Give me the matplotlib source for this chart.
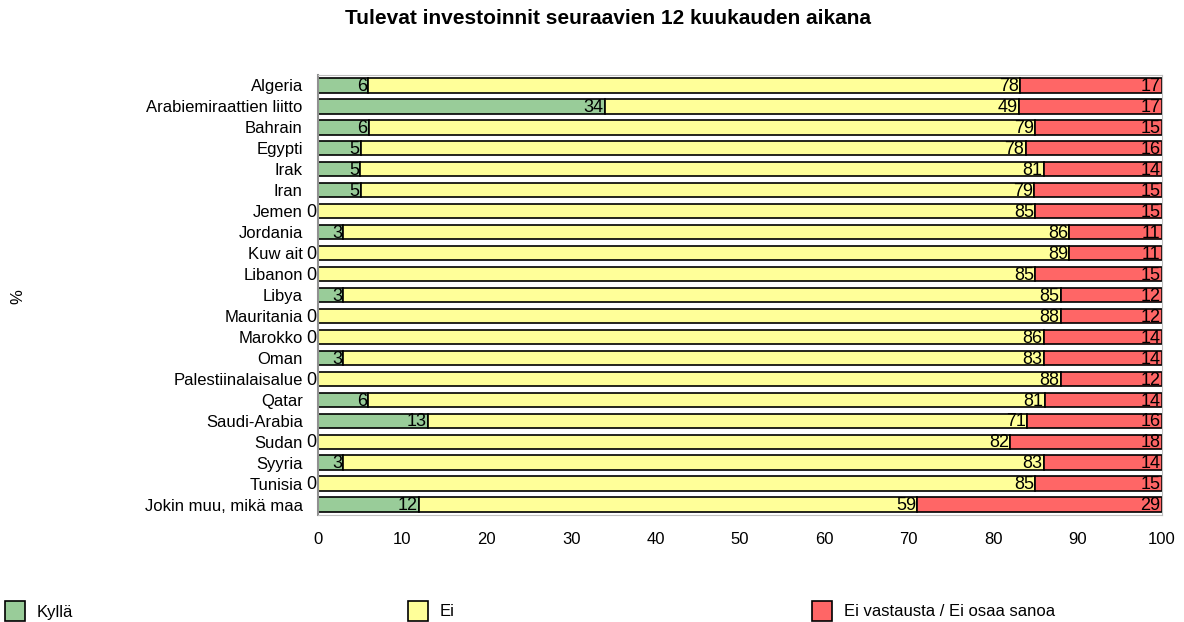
import matplotlib
matplotlib.use("Agg")
import matplotlib.pyplot as plt
import numpy as np

plt.rcParams['font.family'] = ['Liberation Sans', 'DejaVu Sans']

countries = ["Algeria", "Arabiemiraattien liitto", "Bahrain", "Egypti", "Irak", "Iran",
             "Jemen", "Jordania", "Kuw ait", "Libanon", "Libya", "Mauritania", "Marokko",
             "Oman", "Palestiinalaisalue", "Qatar", "Saudi-Arabia", "Sudan", "Syyria",
             "Tunisia", "Jokin muu, mikä maa"]
kylla = [6, 34, 6, 5, 5, 5, 0, 3, 0, 0, 3, 0, 0, 3, 0, 6, 13, 0, 3, 0, 12]
ei = [78, 49, 79, 78, 81, 79, 85, 86, 89, 85, 85, 88, 86, 83, 88, 81, 71, 82, 83, 85, 59]
eos = [17, 17, 15, 16, 14, 15, 15, 11, 11, 15, 12, 12, 14, 14, 12, 14, 16, 18, 14, 15, 29]
series_names = ["Kyllä", "Ei", "Ei vastausta / Ei osaa sanoa"]
colors = ["#99CC99", "#FFFF99", "#FF6666"]

data = np.array([kylla, ei, eos], dtype=float)
# rounded labels don't always add up to 100, the bars are drawn as shares
shares = data / data.sum(axis=0) * 100

W, H = 1184, 622
fig = plt.figure(figsize=(W / 100, H / 100), dpi=100)
ax = fig.add_axes([318 / W, 1 - 515 / H, 844 / W, 440 / H])

y = np.arange(len(countries))
left = np.zeros(len(countries))
for i in range(3):
    ax.barh(y, shares[i], left=left, height=0.68, color=colors[i],
            edgecolor="black", linewidth=1.2)
    ends = left + shares[i]
    for yy, e, v in zip(y, ends, data[i]):
        ax.text(e - 0.15, yy + 0.06, "%d" % v, ha="right", va="center", fontsize=13)
    left = ends

ax.set_xlim(0, 100)
ax.set_ylim(len(countries) - 0.5, -0.5)
ax.set_yticks(y)
ax.set_yticklabels(countries, fontsize=12)
ax.set_xticks(np.arange(0, 101, 10))
ax.tick_params(axis="x", labelsize=12, length=0, pad=12)
ax.tick_params(axis="y", length=0, pad=11)
for s in ax.spines.values():
    s.set_color("#c0c0c0")
ax.spines["left"].set_color("#909090")
ax.spines["left"].set_linewidth(1.5)

fig.text(608 / W, 1 - 19 / H, "Tulevat investoinnit seuraavien 12 kuukauden aikana",
         ha="center", va="center", fontsize=15, fontweight="bold")
fig.text(18 / W, 1 - 297 / H, "%", ha="center", va="center", fontsize=12, rotation=90)

# legend entries spread across the bottom
leg_x = [5, 408, 812]
for xx, name, c in zip(leg_x, series_names, colors):
    fig.patches.append(plt.Rectangle((xx / W, 1 - 621 / H), 20 / W, 20 / H,
                                     facecolor=c, edgecolor="black", linewidth=1.2,
                                     transform=fig.transFigure, figure=fig))
    fig.text((xx + 32) / W, 1 - 612 / H, name, ha="left", va="center", fontsize=12)

fig.savefig("out.png", dpi=100)
